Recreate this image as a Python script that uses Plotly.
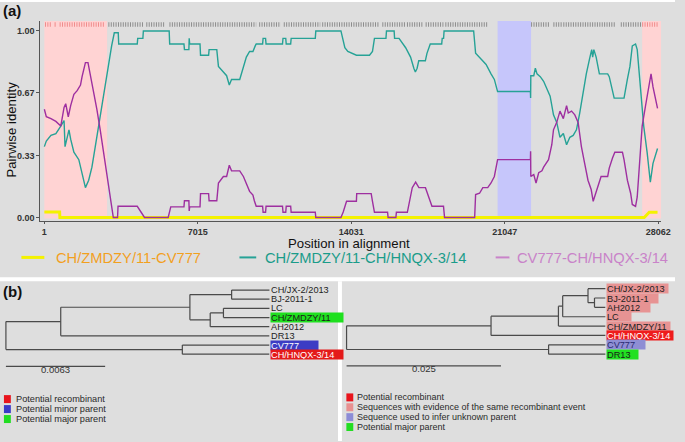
import plotly.graph_objects as go

W, H = 685, 442
FONT = "Liberation Sans, Arial, sans-serif"

# ---------------- Panel (a) data ----------------
x_ticks = [1, 7015, 14031, 21047, 28062]
y_ticks = [0.0, 0.33, 0.67, 1.0]
y_ticktext = ["0.00", "0.33", "0.67", "1.00"]

series_names = ["CH/ZMDZY/11-CV777", "CH/ZMDZY/11-CH/HNQX-3/14", "CV777-CH/HNQX-3/14"]

pos_yellow = [1, 700, 712, 27420, 27650, 28029]
val_yellow = [0.03, 0.03, 0.0, 0.0, 0.028, 0.028]

pos_teal = [1, 91, 303, 528, 753, 902, 947, 1127, 1204, 1352, 1577, 1654, 1879, 2028, 2176,
            2329, 2478, 2627, 2780, 2897, 3005, 3077, 3199, 3379, 3400, 4248, 4270, 4505, 4527,
            5707, 5730, 6383, 6405, 6608, 6622, 6645, 7117, 7140, 7509, 7532, 7883, 7959, 8184,
            8333, 8455, 8558, 8932, 9234, 9383, 9536, 9640, 9685, 9978, 10000, 10113, 10135,
            10887, 10910, 11035, 11057, 11260, 11283, 12386, 12409, 13558, 13737, 13873, 14265,
            14864, 15000, 15090, 15616, 15640, 15990, 16010, 16214, 16516, 16741, 16890, 16960,
            17040, 17115, 17416, 17490, 17641, 18164, 18187, 18250, 18272, 19624, 19714, 20043,
            20193, 20418, 20570, 20719, 22219, 22228, 22237, 22372, 22444, 22520, 22669, 22822,
            22971, 23120, 23273, 23422, 23570, 23724, 23872, 24021, 24174, 24323, 24472, 24625,
            24773, 24922, 25020, 25065, 25119, 25223, 25371, 25750, 25822, 26047, 26498, 26650,
            26768, 26876, 27025, 27101, 27250, 27398, 27552, 27700, 27822, 27925, 28029]
val_teal = [0.38, 0.41, 0.44, 0.45, 0.49, 0.52, 0.38, 0.47, 0.42, 0.35, 0.31, 0.27, 0.16, 0.20, 0.27,
            0.38, 0.49, 0.61, 0.70, 0.79, 0.88, 0.92, 0.99, 0.99, 0.93, 0.93, 0.96, 0.96, 1.0,
            1.0, 0.93, 0.93, 0.90, 0.90, 0.96, 0.93, 0.93, 0.87, 0.87, 0.90, 0.90, 0.81, 0.78,
            0.76, 0.71, 0.74, 0.74, 0.86, 0.89, 0.89, 0.92, 0.93, 0.93, 0.96, 0.96, 0.93,
            0.93, 0.96, 0.96, 0.93, 0.93, 0.96, 0.96, 1.0, 1.0, 0.91, 0.89, 0.87,
            0.87, 0.89, 0.96, 0.96, 1.0, 1.0, 0.96, 0.96, 0.91, 0.86, 0.80, 0.78,
            0.80, 0.84, 0.84, 0.88, 0.93, 0.93, 0.96, 0.96, 1.0, 1.0, 0.88, 0.84,
            0.82, 0.77, 0.74, 0.675, 0.675, 0.64, 0.76, 0.76, 0.80, 0.77, 0.755, 0.73,
            0.69, 0.65, 0.55, 0.51, 0.43, 0.45, 0.39, 0.43, 0.44, 0.47, 0.56, 0.67,
            0.77, 0.85, 0.90, 0.86, 0.90, 0.86, 0.77, 0.77, 0.755, 0.64, 0.64, 0.74,
            0.81, 0.92, 0.93, 0.90, 0.70, 0.49, 0.35, 0.19, 0.29, 0.33, 0.37]

pos_purple = [1, 91, 303, 528, 753, 902, 978, 1095, 1204, 1352, 1501, 1654, 1726, 1803, 1879,
              1996, 2104, 2253, 2402, 2555, 2703, 2807, 2929, 3050, 3154, 3347, 3370, 4248, 4428,
              4581, 5662, 5779, 6383, 6405, 6608, 6622, 6645, 7117, 7140, 7509, 7532, 7883, 7959,
              8184, 8333, 8455, 8558, 8932, 9100, 9383, 9536, 9600, 9685, 9978, 10000, 10113,
              10135, 10887, 10910, 11035, 11057, 11260, 11283, 12386, 12409, 13558, 13662, 13815,
              14265, 14279, 14941, 15000, 15090, 15690, 15713, 16070, 16093, 16593, 16747, 16818,
              16972, 17121, 17421, 17646, 17719, 18246, 18294, 19670, 19714, 19894, 20043, 20268,
              20418, 20570, 20719, 22219, 22228, 22237, 22372, 22475, 22597, 22745, 22822, 23047,
              23196, 23273, 23422, 23570, 23724, 23872, 23949, 24098, 24248, 24400, 24549, 24698,
              24850, 24997, 25088, 25149, 25300, 25449, 25750, 25822, 25975, 26078, 26425, 26498,
              26650, 26800, 26876, 27025, 27101, 27218, 27326, 27475, 27624, 27732, 27822, 27925,
              28029]
val_purple = [0.58, 0.54, 0.53, 0.515, 0.49, 0.59, 0.61, 0.54, 0.60, 0.66, 0.68, 0.71, 0.755, 0.79, 0.83,
              0.83, 0.765, 0.675, 0.58, 0.47, 0.355, 0.29, 0.20, 0.096, 0.0, 0.0, 0.06, 0.06, 0.03,
              0.0, 0.0, 0.057, 0.057, 0.09, 0.09, 0.035, 0.057, 0.057, 0.128, 0.128, 0.09, 0.09, 0.185,
              0.22, 0.22, 0.28, 0.25, 0.25, 0.22, 0.14, 0.12, 0.09, 0.06, 0.06, 0.028, 0.028,
              0.06, 0.06, 0.028, 0.028, 0.06, 0.06, 0.028, 0.028, 0.0, 0.0, 0.03, 0.087,
              0.087, 0.128, 0.128, 0.087, 0.028, 0.028, 0.0, 0.0, 0.028, 0.028, 0.12, 0.16,
              0.19, 0.16, 0.16, 0.09, 0.06, 0.06, 0.0, 0.0, 0.123, 0.13, 0.16, 0.16,
              0.185, 0.22, 0.31, 0.31, 0.355, 0.22, 0.23, 0.185, 0.24, 0.25, 0.27, 0.31,
              0.39, 0.47, 0.51, 0.57, 0.53, 0.60, 0.56, 0.57, 0.55, 0.51, 0.38, 0.29,
              0.20, 0.15, 0.087, 0.11, 0.17, 0.22, 0.22, 0.265, 0.32, 0.35, 0.35, 0.31,
              0.20, 0.13, 0.07, 0.06, 0.11, 0.33, 0.49, 0.595, 0.70, 0.77, 0.70, 0.65,
              0.585]

recombinant_regions = [(1, 2870), (27326, 28197)]
unknown_parent_regions = [(20719, 22250)]
site_ranges_gray = [(2928, 4550), (4662, 5540), (5720, 9685), (9820, 10810), (10945, 12612),
                    (12702, 15315), (15450, 16485), (16575, 17340), (17430, 18240), (18330, 20268),
                    (22250, 23105), (23270, 23650), (23723, 26125), (26350, 27300)]
site_ranges_pink = [(30, 330), (470, 560), (700, 2780), (27326, 28062)]
site_row_value = 1.034

# ---------------- Panel (b) data ----------------
# (name, branch length, children)
tree_left = ("root", 0.0, [
    ("E", 0.00348, [
        ("D", 0.00820, [
            ("A", 0.00265, [("CH/JX-2/2013", 0.00240, []), ("BJ-2011-1", 0.00240, [])]),
            ("C", 0.00129, [
                ("B", 0.00084, [("LC", 0.00292, []), ("CH/ZMDZY/11", 0.00292, [])]),
                ("AH2012", 0.00375, [])]),
        ]),
        ("DR13", 0.01324, []),
    ]),
    ("F", 0.01120, [("CV777", 0.00552, []), ("CH/HNQX-3/14", 0.00552, [])]),
])
tree_right = ("root", 0.0, [
    ("N1", 0.02339, [
        ("N2", 0.01091, [
            ("N3", 0.00069, [
                ("N4", 0.00410, [
                    ("CH/JX-2/2013", 0.00281, []),
                    ("N5", 0.00105, [("BJ-2011-1", 0.00175, []), ("AH2012", 0.00175, [])]),
                ]),
                ("LC", 0.00691, []),
            ]),
            ("CH/ZMDZY/11", 0.00759, []),
        ]),
        ("CH/HNQX-3/14", 0.01851, []),
    ]),
    ("N6", 0.03271, [("CV777", 0.00919, []), ("DR13", 0.00919, [])]),
])
scale_left = 0.0063
scale_right = 0.025

legend_left = [("Potential recombinant", "#e8141c"), ("Potential minor parent", "#3a3ac8"),
               ("Potential major parent", "#22dd22")]
legend_right = [("Potential recombinant", "#e8141c"),
                ("Sequences with evidence of the same recombinant event", "#e89090"),
                ("Sequence used to infer unknown parent", "#8c8cd6"),
                ("Potential major parent", "#22dd22")]

# label styles: name -> (bg, text colour, box width px)
style_left = {"CH/ZMDZY/11": ("#1ee01e", "#1a1a1a", 72), "CV777": ("#3c3cc4", "#ffffff", 47),
              "CH/HNQX-3/14": ("#e41a1a", "#ffffff", 72)}
PINK = "#e79393"
style_right = {"CH/JX-2/2013": (PINK, "#222", 61), "BJ-2011-1": (PINK, "#222", 51),
               "AH2012": (PINK, "#222", 43), "LC": (PINK, "#222", 24),
               "CH/ZMDZY/11": (PINK, "#222", 63), "CH/HNQX-3/14": ("#ee1c1c", "#ffffff", 66),
               "CV777": ("#8e8ed4", "#2a2a70", 38), "DR13": ("#22e022", "#1a1a1a", 31)}


def px(x):
    return x / W


def py(y):
    return 1 - y / H


def lay(node, x_parent, leaves, segs):
    name, bl, kids = node
    x = x_parent + bl
    if kids:
        ys = [lay(k, x, leaves, segs) for k in kids]
        y = (ys[0] + ys[-1]) / 2
        segs.append(((x, ys[0]), (x, ys[-1])))
    else:
        y = len(leaves)
        leaves.append((name, x, y))
    segs.append(((x_parent, y), (x, y)))
    return y


fig = go.Figure()
shapes = []
annotations = []

# backgrounds / separators
shapes.append(dict(type="rect", xref="paper", yref="paper", x0=0, x1=1, y0=py(282), y1=py(278),
                   fillcolor="white", line_width=0, layer="below"))
shapes.append(dict(type="rect", xref="paper", yref="paper", x0=px(343), x1=px(347), y0=0, y1=py(282),
                   fillcolor="white", line_width=0, layer="below"))
shapes.append(dict(type="rect", xref="paper", yref="paper", x0=0, x1=1, y0=py(2), y1=1,
                   fillcolor="white", line_width=0, layer="below"))

# shaded regions
for a, b in recombinant_regions:
    shapes.append(dict(type="rect", xref="x", yref="y", x0=a, x1=b, y0=-0.006, y1=1.0535,
                       fillcolor="#ffd3d3", line_width=0, layer="below"))
for a, b in unknown_parent_regions:
    shapes.append(dict(type="rect", xref="x", yref="y", x0=a, x1=b, y0=-0.006, y1=1.0535,
                       fillcolor="#c6c6fb", line_width=0, layer="below"))


def ranges_trace(ranges, color):
    xs, ys = [], []
    for a, b in ranges:
        xs += [a, b, None]
        ys += [site_row_value, site_row_value, None]
    return go.Scatter(x=xs, y=ys, mode="lines", line=dict(color=color, width=4.5, dash="1px,1.4px"),
                      hoverinfo="skip", showlegend=False, xaxis="x", yaxis="y")


fig.add_trace(ranges_trace(site_ranges_gray, "#8c8c8c"))
fig.add_trace(ranges_trace(site_ranges_pink, "#f08a8a"))

fig.add_trace(go.Scatter(x=pos_yellow, y=val_yellow, mode="lines", name=series_names[0],
                         line=dict(color="#f4f200", width=3), xaxis="x", yaxis="y", showlegend=False))
fig.add_trace(go.Scatter(x=pos_teal, y=val_teal, mode="lines", name=series_names[1],
                         line=dict(color="#26a296", width=1.4), xaxis="x", yaxis="y", showlegend=False))
fig.add_trace(go.Scatter(x=pos_purple, y=val_purple, mode="lines", name=series_names[2],
                         line=dict(color="#9e2fa0", width=1.4), xaxis="x", yaxis="y", showlegend=False))

# manual legend for (a)
leg = [(21.7, 45, 3, "#f4f200", 55, "#f2a01e"), (243, 260, 2, "#26a296", 267, "#1a9c8a"),
       (503, 517, 2, "#c983c9", 523, "#c983c9")]
for (l0, l1, lw, lc, tx, tc), name in zip(leg, series_names):
    shapes.append(dict(type="line", xref="paper", yref="paper", x0=px(l0), x1=px(l1), y0=py(258),
                       y1=py(258), line=dict(color=lc, width=lw)))
    annotations.append(dict(xref="paper", yref="paper", x=px(tx), y=py(258.5), text=name,
                            showarrow=False, xanchor="left", yanchor="middle",
                            font=dict(family=FONT, size=14.7, color=tc)))

annotations.append(dict(xref="paper", yref="paper", x=px(354), y=py(244), text="Position in alignment",
                        showarrow=False, xanchor="center", yanchor="middle",
                        font=dict(family=FONT, size=13.2, color="#111")))
annotations.append(dict(xref="paper", yref="paper", x=px(12), y=py(130), text="Pairwise identity",
                        showarrow=False, textangle=-90, xanchor="center", yanchor="middle",
                        font=dict(family=FONT, size=13.2, color="#111")))
annotations.append(dict(xref="paper", yref="paper", x=px(1), y=py(11), text="<b>(a)</b>",
                        showarrow=False, xanchor="left", yanchor="middle",
                        font=dict(family=FONT, size=15, color="#111")))
annotations.append(dict(xref="paper", yref="paper", x=px(1), y=py(292), text="<b>(b)</b>",
                        showarrow=False, xanchor="left", yanchor="middle",
                        font=dict(family=FONT, size=15, color="#111")))


# trees
def draw_tree(tree, xa, ya, styles):
    leaves, segs = [], []
    lay(tree, 0.0, leaves, segs)
    xs, ys = [], []
    for (x0, y0), (x1, y1) in segs:
        xs += [x0, x1, None]
        ys += [y0, y1, None]
    fig.add_trace(go.Scatter(x=xs, y=ys, mode="lines", line=dict(color="#4a4a4a", width=1.2),
                             xaxis=xa, yaxis=ya, hoverinfo="skip", showlegend=False))
    for name, x, y in leaves:
        st = styles.get(name)
        d = dict(xref=xa, yref=ya, x=x, y=y, text=name, showarrow=False, xanchor="left",
                 yanchor="middle", xshift=0.5, align="left", borderpad=0,
                 font=dict(family=FONT, size=9.2, color="#1e1e1e"))
        if st:
            d.update(bgcolor=st[0], width=st[2], height=9)
            d["font"]["color"] = st[1]
        annotations.append(d)


draw_tree(tree_left, "x2", "y2", style_left)
draw_tree(tree_right, "x3", "y3", style_right)

# scale bars
shapes.append(dict(type="line", xref="x2", yref="paper", x0=0, x1=scale_left, y0=py(367.3), y1=py(367.3),
                   line=dict(color="#4a4a4a", width=1.2)))
annotations.append(dict(xref="x2", yref="paper", x=scale_left / 2, y=py(377.5), text=str(scale_left),
                        showarrow=False, font=dict(family=FONT, size=9.5, color="#333")))
shapes.append(dict(type="line", xref="x3", yref="paper", x0=0, x1=scale_right, y0=py(366.7), y1=py(366.7),
                   line=dict(color="#4a4a4a", width=1.2)))
annotations.append(dict(xref="x3", yref="paper", x=scale_right / 2, y=py(376.5), text=str(scale_right),
                        showarrow=False, font=dict(family=FONT, size=9.5, color="#333")))

# legends (b)
for i, (txt, col) in enumerate(legend_left):
    yc = 400 + 10 * i
    shapes.append(dict(type="rect", xref="paper", yref="paper", x0=px(4), x1=px(11), y0=py(yc + 4),
                       y1=py(yc - 4), fillcolor=col, line_width=0))
    annotations.append(dict(xref="paper", yref="paper", x=px(14), y=py(yc), text=txt, showarrow=False,
                            xanchor="left", yanchor="middle", font=dict(family=FONT, size=9.2, color="#2a2a2a")))
for i, (txt, col) in enumerate(legend_right):
    yc = 398.3 + 9.9 * i
    shapes.append(dict(type="rect", xref="paper", yref="paper", x0=px(351.5), x1=px(358.5), y0=py(yc + 4),
                       y1=py(yc - 4), fillcolor=col, line_width=0))
    annotations.append(dict(xref="paper", yref="paper", x=px(360), y=py(yc), text=txt, showarrow=False,
                            xanchor="left", yanchor="middle", font=dict(family=FONT, size=9, color="#2a2a2a")))

tick_font = dict(family=FONT, size=9, color="#333", weight="bold")
pxs_per_unit_l = 15985
pxs_per_unit_r = 6268

fig.update_layout(
    width=W, height=H, autosize=False, margin=dict(l=0, r=0, t=0, b=0),
    paper_bgcolor="#dedede", plot_bgcolor="rgba(0,0,0,0)",
    shapes=shapes, annotations=annotations, showlegend=False,
    xaxis=dict(domain=[px(41), px(671)], range=[-179, 28197], showgrid=False, zeroline=False,
               showline=True, linecolor="#555", linewidth=1, ticks="outside", ticklen=2, tickcolor="#555",
               tickvals=x_ticks, ticktext=[str(v) for v in x_ticks], tickfont=tick_font, anchor="y"),
    yaxis=dict(domain=[py(222), py(21)], range=[-0.0214, 1.0535], showgrid=False, zeroline=False,
               showline=True, linecolor="#555", linewidth=1, ticks="outside", ticklen=3, tickcolor="#555",
               tickvals=y_ticks, ticktext=y_ticktext, tickfont=tick_font, anchor="x"),
    xaxis2=dict(domain=[0, px(343)], range=[-6 / pxs_per_unit_l, 337 / pxs_per_unit_l], visible=False,
                anchor="y2"),
    yaxis2=dict(domain=[0, py(282)], range=[(442 - 290.7) / 9.186, (282 - 290.7) / 9.186], visible=False,
                anchor="x2"),
    xaxis3=dict(domain=[px(347), 1], range=[-4.7 / pxs_per_unit_r, 333.3 / pxs_per_unit_r], visible=False,
                anchor="y3"),
    yaxis3=dict(domain=[0, py(282)], range=[(442 - 289.3) / 9.386, (282 - 289.3) / 9.386], visible=False,
                anchor="x3"),
)

fig.write_html("out.html", config={"displayModeBar": False},
               post_script="document.body.style.margin='0';document.body.style.padding='0';")
